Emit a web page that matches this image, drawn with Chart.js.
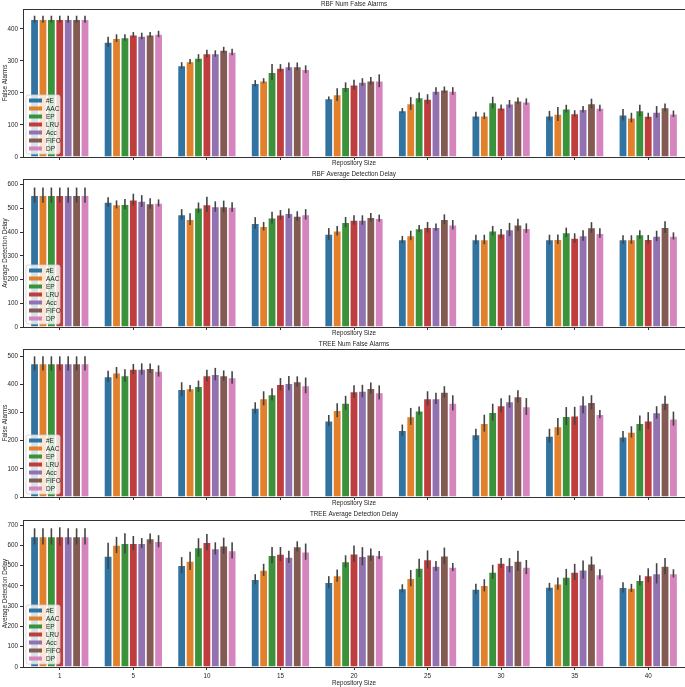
<!DOCTYPE html>
<html>
<head>
<meta charset="utf-8">
<script src="https://cdn.jsdelivr.net/npm/chart.js@4.4.1/dist/chart.umd.min.js"></script>
<style>
  html, body { margin: 0; padding: 0; background: #fff; }
  #wrap { position: relative; width: 685px; height: 687px; }
  #wrap canvas { position: absolute; left: 0; }
</style>
</head>
<body>
<div id="wrap">
  <canvas id="c1" width="685" height="170" style="top:0px"></canvas>
  <canvas id="c2" width="685" height="170" style="top:170px"></canvas>
  <canvas id="c3" width="685" height="170" style="top:340px"></canvas>
  <canvas id="c4" width="685" height="177" style="top:510px"></canvas>
</div>
<script>
/* ── data ── */
var sizes  = ['1', '5', '10', '15', '20', '25', '30', '35', '40'];
var series = ['#E', 'AAC', 'EP', 'LRU', 'Acc', 'FIFO', 'DP'];
var colors = ['#3274a1', '#e1812c', '#3a923a', '#c03d3e', '#9372b2', '#845b53', '#d684bd'];

// rows follow `series`, columns follow `sizes`
var rbfAlarms = [
  [430, 359, 286, 230, 183, 145, 129, 129, 132],
  [430, 371, 298, 238, 195, 167, 129, 134, 123],
  [430, 373, 309, 265, 218, 186, 170, 151, 145],
  [430, 382, 323, 278, 226, 181, 154, 136, 128],
  [430, 378, 323, 283, 234, 206, 166, 149, 141],
  [430, 382, 334, 283, 238, 210, 176, 167, 155],
  [430, 384, 328, 274, 238, 206, 173, 153, 135]
];
var rbfAlarmsErr = [
  [11, 16, 10, 10,  6,  8, 12, 15, 18],
  [11, 12,  8,  8, 20, 20, 10, 22, 15],
  [11, 10, 12, 25, 15, 15, 18, 12, 18],
  [11,  8, 12, 12, 15, 15, 10, 10, 10],
  [11, 10, 10, 12, 12, 12, 12, 10, 18],
  [11,  8, 10, 12, 12, 10, 10, 15, 12],
  [11, 10, 10, 12, 20, 12, 10, 10, 10]
];

var rbfDelay = [
  [556, 527, 475, 438, 392, 369, 369, 369, 369],
  [556, 517, 455, 425, 406, 386, 369, 370, 369],
  [556, 518, 503, 461, 442, 415, 406, 399, 390],
  [556, 537, 517, 473, 451, 421, 393, 375, 370],
  [556, 531, 508, 480, 451, 421, 411, 386, 384],
  [556, 521, 508, 468, 463, 455, 431, 420, 421],
  [556, 523, 506, 475, 459, 431, 417, 396, 384]
];
var rbfDelayErr = [
  [32, 20, 22, 25, 25, 15, 20, 20, 18],
  [32, 17, 25, 18, 20, 20, 20, 20, 18],
  [32, 22, 22, 25, 22, 15, 20, 20, 18],
  [32, 25, 32, 20, 20, 22, 20, 20, 18],
  [32, 25, 22, 20, 20, 15, 28, 22, 22],
  [32, 22, 25, 20, 18, 20, 25, 22, 25],
  [32, 15, 20, 22, 15, 20, 20, 20, 15]
];

var treeAlarms = [
  [474, 428, 382, 316, 271, 237, 222, 217, 214],
  [474, 441, 385, 350, 308, 286, 262, 250, 231],
  [474, 431, 393, 364, 334, 306, 301, 287, 262],
  [474, 454, 431, 400, 374, 350, 325, 288, 271],
  [474, 454, 436, 404, 376, 350, 339, 327, 300],
  [474, 457, 431, 410, 386, 373, 357, 336, 334],
  [474, 447, 424, 396, 371, 334, 321, 294, 278]
];
var treeAlarmsErr = [
  [25, 20, 25, 20, 20, 20, 20, 25, 20],
  [25, 20, 12, 25, 25, 30, 30, 30, 20],
  [25, 22, 20, 22, 25, 15, 30, 32, 27],
  [25, 18, 20, 22, 22, 25, 25, 32, 30],
  [25, 20, 22, 25, 22, 20, 22, 30, 22],
  [25, 17, 18, 18, 20, 20, 22, 25, 25],
  [25, 20, 22, 28, 25, 27, 30, 15, 25]
];

var treeDelay = [
  [644, 548, 502, 433, 418, 388, 385, 395, 393],
  [644, 602, 523, 479, 451, 438, 403, 411, 390],
  [644, 610, 590, 552, 521, 489, 469, 444, 428],
  [644, 611, 616, 557, 559, 530, 513, 469, 452],
  [644, 611, 585, 543, 546, 498, 502, 480, 462],
  [644, 634, 598, 595, 554, 549, 523, 510, 498],
  [644, 620, 575, 569, 552, 493, 493, 457, 462]
];
var treeDelayErr = [
  [40, 65, 40, 25, 30, 20, 25, 20, 25],
  [40, 40, 45, 30, 30, 40, 30, 30, 20],
  [40, 50, 45, 40, 30, 45, 35, 40, 25],
  [45, 35, 40, 35, 40, 45, 25, 40, 35],
  [40, 25, 30, 30, 45, 25, 35, 45, 50],
  [40, 25, 40, 25, 30, 40, 50, 35, 40],
  [40, 30, 40, 40, 20, 20, 35, 25, 20]
];

/* ── helpers ── */
var FONT = '"Liberation Sans", Arial, sans-serif';
var INK  = '#262626';

// error bars, top spine, panel title and in-axes legend
var decor = {
  id: 'decor',
  afterDatasetsDraw: function(chart) {
    var ctx = chart.ctx, y = chart.scales.y;
    ctx.save();
    ctx.strokeStyle = '#444';
    ctx.lineWidth = 1.6;
    chart.data.datasets.forEach(function(ds, i) {
      var meta = chart.getDatasetMeta(i);
      meta.data.forEach(function(bar, j) {
        var v = ds.data[j], e = ds.err[j];
        ctx.beginPath();
        ctx.moveTo(bar.x, y.getPixelForValue(v - e));
        ctx.lineTo(bar.x, y.getPixelForValue(v + e));
        ctx.stroke();
      });
    });
    ctx.restore();
  },
  afterDraw: function(chart) {
    var ctx = chart.ctx, a = chart.chartArea;
    var opt = chart.options.plugins.decor;
    ctx.save();
    // top spine
    ctx.strokeStyle = '#333';
    ctx.lineWidth = 1;
    ctx.beginPath();
    ctx.moveTo(a.left, a.top + 0.5);
    ctx.lineTo(a.right, a.top + 0.5);
    ctx.stroke();
    // title
    ctx.fillStyle = INK;
    ctx.font = '6.3px ' + FONT;
    ctx.textAlign = 'center';
    ctx.textBaseline = 'middle';
    ctx.fillText(opt.title, (a.left + a.right) / 2, opt.titleY);
    // legend
    var n = chart.data.datasets.length, step = 8;
    var lastY = a.bottom - 8.5, firstY = lastY - step * (n - 1);
    var bx = a.left + 3, bw = 34, by = firstY - 5.5, bh = lastY + 5.5 - by;
    ctx.fillStyle = 'rgba(255,255,255,0.8)';
    ctx.strokeStyle = '#d0d0d0';
    ctx.lineWidth = 0.8;
    ctx.beginPath();
    ctx.roundRect(bx, by, bw, bh, 2);
    ctx.fill();
    ctx.stroke();
    ctx.textAlign = 'left';
    ctx.font = '6.5px ' + FONT;
    chart.data.datasets.forEach(function(ds, i) {
      var cy = firstY + i * step;
      ctx.fillStyle = ds.backgroundColor;
      ctx.fillRect(bx + 3, cy - 2, 13, 4);
      ctx.fillStyle = INK;
      ctx.fillText(ds.label, bx + 20, cy + 0.3);
    });
    ctx.restore();
  }
};

function makePanel(id, title, yLabel, vals, errs, yMax, opts) {
  var el = document.getElementById(id);
  var H  = el.height;
  var datasets = series.map(function(name, i) {
    return {
      label: name, data: vals[i], err: errs[i],
      backgroundColor: colors[i],
      borderColor: 'rgba(255,255,255,0.7)', borderWidth: 0.8,
      categoryPercentage: 0.8, barPercentage: 1.0
    };
  });
  return new Chart(el.getContext('2d'), {
    type: 'bar',
    data: { labels: sizes, datasets: datasets },
    plugins: [decor],
    options: {
      responsive: false, animation: false, devicePixelRatio: 1,
      layout: { padding: { top: opts.top, right: 0, left: 0, bottom: 0 } },
      plugins: {
        legend: { display: false }, tooltip: { enabled: false },
        decor: { title: title, titleY: opts.titleY }
      },
      scales: {
        x: {
          grid: { display: true, offset: false, drawOnChartArea: false, drawTicks: true, tickLength: 3, color: '#333' },
          border: { display: true, color: '#333', width: 1 },
          ticks: { display: opts.xTicks, color: INK, padding: 2, font: { family: FONT, size: 6.3 } },
          title: { display: true, text: 'Repository Size', color: INK,
                   font: { family: FONT, size: 6.3 }, padding: { top: 0, bottom: opts.xTitlePad } },
          afterFit: function(s) { s.height = H - 157; }
        },
        y: {
          min: 0, max: yMax,
          grid: { display: true, drawOnChartArea: false, drawTicks: true, tickLength: 3, color: '#333' },
          border: { display: true, color: '#333', width: 1 },
          ticks: { stepSize: 100, includeBounds: false, color: INK, padding: 2,
                   font: { family: FONT, size: 6.3 } },
          title: { display: true, text: yLabel, color: INK,
                   font: { family: FONT, size: 6.3 }, padding: { top: 1.3, bottom: 0 } },
          afterFit: function(s) { s.width = 23; }
        }
      }
    }
  });
}

makePanel('c1', 'RBF Num False Alarms', 'False Alarms', rbfAlarms, rbfAlarmsErr, 462,
  { top: 9, titleY: 4.5, xTicks: false, xTitlePad: 3.3 });
makePanel('c2', 'RBF Average Detection Delay', 'Average Detection Delay', rbfDelay, rbfDelayErr, 624,
  { top: 9, titleY: 4.5, xTicks: false, xTitlePad: 3.3 });
makePanel('c3', 'TREE Num False Alarms', 'False Alarms', treeAlarms, treeAlarmsErr, 525,
  { top: 9, titleY: 4.5, xTicks: false, xTitlePad: 3.3 });
makePanel('c4', 'TREE Average Detection Delay', 'Average Detection Delay', treeDelay, treeDelayErr, 725,
  { top: 10, titleY: 4.7, xTicks: true, xTitlePad: 0 });
</script>
</body>
</html>
